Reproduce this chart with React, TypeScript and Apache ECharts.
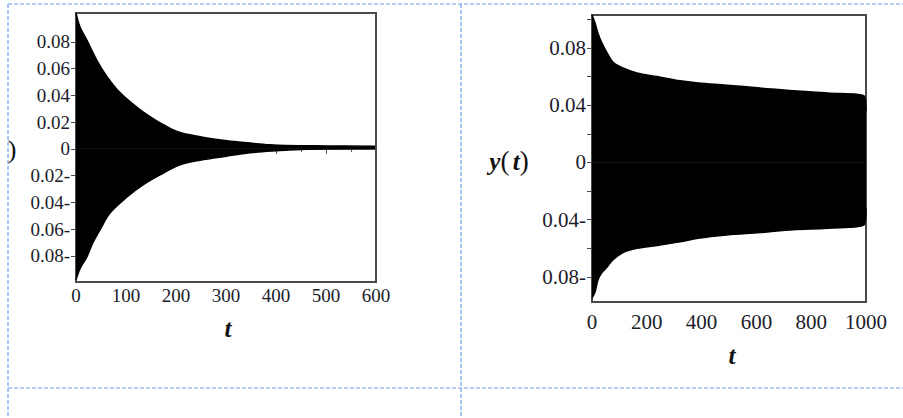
import React, { useEffect, useRef } from "react";
import * as echarts from "echarts";

// Left panel: envelope of the decaying oscillation y(t), t in [0, 600]
const LEFT_T_UP = [0, 8, 22, 42, 62, 88, 122, 148, 170, 202, 248, 302, 348, 388, 420, 500, 598];
const LEFT_UPPER = [0.1015, 0.091, 0.081, 0.066, 0.054, 0.042, 0.031, 0.024, 0.019, 0.013, 0.009, 0.006, 0.0043, 0.003, 0.0025, 0.0022, 0.002];
const LEFT_T_LOW = [0, 8, 22, 34, 48, 68, 102, 134, 168, 208, 248, 300, 348, 400, 450, 500, 598];
const LEFT_LOWER = [-0.098, -0.0895, -0.0805, -0.07, -0.0605, -0.048, -0.036, -0.027, -0.0195, -0.012, -0.0085, -0.0055, -0.003, -0.0015, -0.0005, 0.0, 0.0005];

// Right panel: envelope of y(t), t in [0, 1000]
const RIGHT_T_UP = [0, 11, 22, 36, 55, 77, 113, 164, 237, 321, 387, 492, 614, 735, 860, 993, 1000];
const RIGHT_UPPER = [0.103, 0.0975, 0.09, 0.0835, 0.0765, 0.07, 0.066, 0.0625, 0.06, 0.057, 0.0555, 0.054, 0.052, 0.05, 0.0485, 0.0465, 0.036];
const RIGHT_T_LOW = [0, 11, 22, 36, 55, 77, 113, 164, 237, 321, 387, 492, 614, 735, 860, 993, 1000];
const RIGHT_LOWER = [-0.0947, -0.0905, -0.082, -0.077, -0.073, -0.068, -0.063, -0.06, -0.058, -0.0555, -0.053, -0.0507, -0.049, -0.047, -0.046, -0.0437, -0.032];

// Tick labels
const LEFT_Y_LABELS = [-0.08, -0.06, -0.04, -0.02, 0, 0.02, 0.04, 0.06, 0.08];
const RIGHT_Y_LABELS = [-0.08, -0.04, 0, 0.04, 0.08];
const RIGHT_Y_TICKS = [-0.08, -0.06, -0.04, -0.02, 0, 0.02, 0.04, 0.06, 0.08, 0.1];

const SERIF = "'Liberation Serif', 'Times New Roman', serif";
const TEXT = "#1c1c2a";
const FRAME = "#4a4a4a";
const DASH = "#6f9ff0";

const fmtY = (v: number) => {
  if (Math.abs(v) < 1e-9) return "0";
  return v < 0 ? `${Math.abs(v).toFixed(2)}-` : v.toFixed(2);
};

const zip = (a: number[], b: number[]) => a.map((x, i) => [x, b[i]]);

export default function App() {
  const ref = useRef<HTMLDivElement>(null);
  useEffect(() => {
    if (!ref.current) return;
    const chart = echarts.init(ref.current, undefined, { renderer: "svg" });

    const areaSeries = (xi: number, data: number[][]) => ({
      type: "line",
      xAxisIndex: xi,
      yAxisIndex: xi,
      data,
      symbol: "none",
      smooth: 0.35,
      lineStyle: { color: "#000", width: 1.5 },
      areaStyle: { color: "#000", opacity: 1 },
      silent: true,
    });

    const yAxisBase = (gi: number, min: number, max: number, fontSize: number, labels: number[], ticks: number[]) => ({
      type: "value",
      gridIndex: gi,
      min,
      max,
      axisLine: { show: true, lineStyle: { color: FRAME, width: 2 } },
      axisTick: { show: true, length: 5, customValues: ticks, lineStyle: { color: FRAME, width: 1 } },
      axisLabel: {
        customValues: labels,
        formatter: fmtY,
        color: TEXT,
        fontFamily: SERIF,
        fontSize,
        margin: 6,
      },
      splitLine: { show: false },
    });

    const xAxisBase = (gi: number, max: number, interval: number, fontSize: number, margin: number) => ({
      type: "value",
      gridIndex: gi,
      min: 0,
      max,
      interval,
      axisLine: { show: true, lineStyle: { color: FRAME, width: 2 } },
      axisTick: { show: true, length: 5, lineStyle: { color: FRAME, width: 1 } },
      minorTick: { show: true, splitNumber: 2, length: 3, lineStyle: { color: FRAME, width: 1 } },
      axisLabel: { color: TEXT, fontFamily: SERIF, fontSize, margin, formatter: (v: number) => String(v) },
      splitLine: { show: false },
    });

    const dashLine = (x1: number, y1: number, x2: number, y2: number) => ({
      type: "line",
      shape: { x1, y1, x2, y2 },
      style: { stroke: DASH, lineWidth: 1.2, lineDash: [4, 2] },
      silent: true,
    });

    chart.setOption({
      animation: false,
      backgroundColor: "#fff",
      grid: [
        { left: 76, top: 13, width: 300, height: 269, show: true, borderColor: FRAME, borderWidth: 2, containLabel: false },
        { left: 592, top: 15, width: 274, height: 287, show: true, borderColor: FRAME, borderWidth: 2, containLabel: false },
      ],
      xAxis: [xAxisBase(0, 600, 100, 19, 4), xAxisBase(1, 1000, 200, 21, 9)],
      yAxis: [
        yAxisBase(0, -0.0995, 0.1015, 19, LEFT_Y_LABELS, LEFT_Y_LABELS),
        yAxisBase(1, -0.0975, 0.103, 21, RIGHT_Y_LABELS, RIGHT_Y_TICKS),
      ],
      series: [
        areaSeries(0, zip(LEFT_T_UP, LEFT_UPPER)),
        areaSeries(0, zip(LEFT_T_LOW, LEFT_LOWER)),
        areaSeries(1, zip(RIGHT_T_UP, RIGHT_UPPER)),
        areaSeries(1, zip(RIGHT_T_LOW, RIGHT_LOWER)),
      ],
      graphic: [
        dashLine(8, 4, 903, 4),
        dashLine(8, 4, 8, 418),
        dashLine(461, 4, 461, 418),
        dashLine(8, 388, 903, 388),
        {
          type: "text",
          x: 228,
          y: 328,
          style: { text: "t", font: `italic bold 25px ${SERIF}`, fill: "#111", align: "center", verticalAlign: "middle" },
        },
        {
          type: "text",
          x: 732,
          y: 355,
          style: { text: "t", font: `italic bold 25px ${SERIF}`, fill: "#111", align: "center", verticalAlign: "middle" },
        },
        {
          type: "text",
          x: 12,
          y: 149,
          style: { text: ")", font: `26px ${SERIF}`, fill: "#111", align: "center", verticalAlign: "middle" },
        },
        {
          type: "text",
          x: 509,
          y: 161,
          style: {
            text: "{b|y}{n|(} {b|t}{n|)}",
            align: "center",
            verticalAlign: "middle",
            rich: {
              b: { fontFamily: SERIF, fontStyle: "italic", fontWeight: "bold", fontSize: 25, fill: "#111" },
              n: { fontFamily: SERIF, fontSize: 27, fill: "#111" },
            },
          },
        },
      ],
    });
    return () => chart.dispose();
  }, []);

  return (
    <div
      ref={ref}
      style={{ position: "absolute", left: 0, top: 0, width: 903, height: 418, background: "#fff" }}
    />
  );
}
